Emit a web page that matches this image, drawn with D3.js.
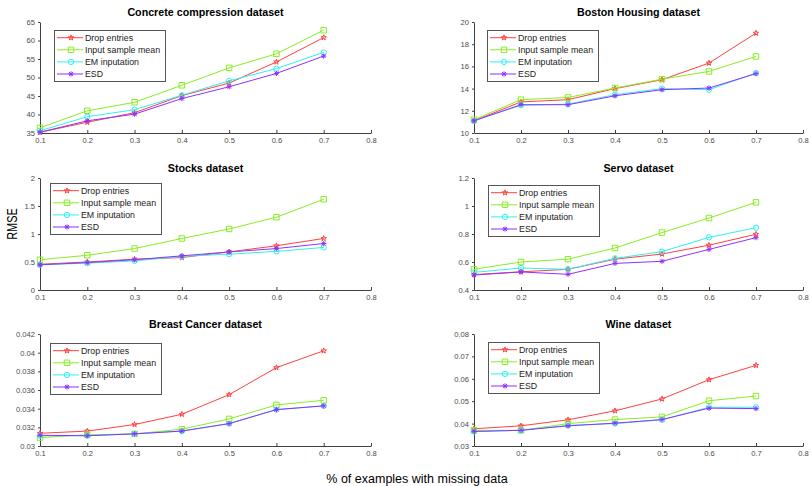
<!DOCTYPE html>
<html><head><meta charset="utf-8">
<script src="https://cdn.jsdelivr.net/npm/d3@7"></script>
<style>body{margin:0;background:#fff}svg{display:block}</style>
</head><body><svg id="c" width="811" height="486"></svg>
<script>
// ---------- data ----------
const missingFraction = [0.1, 0.2, 0.3, 0.4, 0.5, 0.6, 0.7];
const xTickValues = [0.1, 0.2, 0.3, 0.4, 0.5, 0.6, 0.7, 0.8];
const methods = ["Drop entries", "Input sample mean", "EM inputation", "ESD"];
const datasetTitles = ["Concrete compression dataset", "Boston Housing dataset", "Stocks dataset",
  "Servo dataset", "Breast Cancer dataset", "Wine dataset"];

const concreteDrop = [35.2, 37.9, 40.5, 45.1, 48.5, 54.2, 60.8];
const concreteMean = [36.4, 41.0, 43.3, 47.9, 52.6, 56.4, 62.8];
const concreteEM   = [35.6, 39.4, 41.3, 45.2, 49.1, 52.4, 56.8];
const concreteESD  = [35.2, 38.3, 40.1, 44.3, 47.5, 51.1, 55.8];

const bostonDrop = [11.1, 12.8, 13.0, 14.0, 14.8, 16.3, 19.0];
const bostonMean = [11.2, 13.0, 13.2, 14.05, 14.85, 15.55, 16.9];
const bostonEM   = [11.1, 12.5, 12.6, 13.45, 14.0, 13.9, 15.4];
const bostonESD  = [11.1, 12.55, 12.55, 13.35, 13.9, 14.05, 15.35];

const stocksDrop = [0.46, 0.50, 0.55, 0.58, 0.68, 0.79, 0.92];
const stocksMean = [0.54, 0.62, 0.74, 0.92, 1.09, 1.30, 1.62];
const stocksEM   = [0.45, 0.48, 0.52, 0.60, 0.64, 0.69, 0.76];
const stocksESD  = [0.45, 0.49, 0.54, 0.61, 0.68, 0.74, 0.83];

const servoDrop = [0.51, 0.53, 0.548, 0.62, 0.657, 0.72, 0.798];
const servoMean = [0.548, 0.60, 0.62, 0.70, 0.81, 0.914, 1.026];
const servoEM   = [0.526, 0.557, 0.548, 0.626, 0.674, 0.776, 0.845];
const servoESD  = [0.507, 0.529, 0.512, 0.59, 0.605, 0.69, 0.774];

const breastDrop = [0.03136, 0.0316, 0.0323, 0.0334, 0.0355, 0.0384, 0.0402];
const breastMean = [0.0309, 0.0312, 0.0313, 0.0318, 0.0329, 0.0344, 0.0349];
const breastEM   = [0.0311, 0.0311, 0.0313, 0.0316, 0.0324, 0.0339, 0.0343];
const breastESD  = [0.03115, 0.0311, 0.0313, 0.0316, 0.0324, 0.0339, 0.0343];

const wineDrop = [0.0377, 0.039, 0.0417, 0.0457, 0.051, 0.0596, 0.066];
const wineMean = [0.037, 0.037, 0.040, 0.0418, 0.043, 0.0502, 0.0523];
const wineEM   = [0.0365, 0.037, 0.0392, 0.040, 0.0417, 0.0473, 0.0473];
const wineESD  = [0.0365, 0.037, 0.039, 0.0402, 0.0418, 0.0469, 0.0467];

const concreteTicks = [35, 40, 45, 50, 55, 60, 65];
const bostonTicks = [10, 12, 14, 16, 18, 20];
const stocksTicks = [0, 0.5, 1, 1.5, 2];
const servoTicks = [0.4, 0.6, 0.8, 1, 1.2];
const breastTicks = [0.03, 0.032, 0.034, 0.036, 0.038, 0.04, 0.042];
const wineTicks = [0.03, 0.04, 0.05, 0.06, 0.07, 0.08];

const xLabel = "% of examples with missing data";
const yLabel = "RMSE";

// ---------- build panels ----------
const seriesByPanel = [
  [concreteDrop, concreteMean, concreteEM, concreteESD],
  [bostonDrop, bostonMean, bostonEM, bostonESD],
  [stocksDrop, stocksMean, stocksEM, stocksESD],
  [servoDrop, servoMean, servoEM, servoESD],
  [breastDrop, breastMean, breastEM, breastESD],
  [wineDrop, wineMean, wineEM, wineESD]
];
const ticksByPanel = [concreteTicks, bostonTicks, stocksTicks, servoTicks, breastTicks, wineTicks];

// layout
const colX = [[40, 371], [474, 803]];
const rowY = [[22, 133], [178, 290], [334, 446]];
const legendOffset = [[14, 8], [13, 8], [10, 5], [14, 7], [10, 9], [14, 8]];
const colors = ["#ff4040", "#88ee22", "#30f0f0", "#9030ff"];
const axisColor = "#404040";
const font = "'Liberation Sans', Arial, Helvetica, sans-serif";

const svg = d3.select("#c");

function drawMarker(g, k, x, y) {
  const c = colors[k];
  if (k === 0) {
    g.append("path").attr("d", d3.symbol(d3.symbolStar, 9)()).attr("transform", `translate(${x},${y})`)
      .attr("fill", "none").attr("stroke", c).attr("stroke-width", 1);
  } else if (k === 1) {
    g.append("path").attr("d", d3.symbol(d3.symbolSquare, 30)()).attr("transform", `translate(${x},${y})`)
      .attr("fill", "none").attr("stroke", c).attr("stroke-width", 1);
  } else if (k === 2) {
    g.append("path").attr("d", d3.symbol(d3.symbolCircle, 22)()).attr("transform", `translate(${x},${y})`)
      .attr("fill", "none").attr("stroke", c).attr("stroke-width", 1);
  } else {
    const r = 2.6, d = 1.9;
    g.append("path").attr("d", `M${-r},0H${r}M0,${-r}V${r}M${-d},${-d}L${d},${d}M${-d},${d}L${d},${-d}`)
      .attr("transform", `translate(${x},${y})`).attr("fill", "none").attr("stroke", c).attr("stroke-width", 1);
  }
}

const fmt = v => String(+v.toFixed(4));

seriesByPanel.forEach((series, i) => {
  const col = i % 2, row = Math.floor(i / 2);
  const [x0, x1] = colX[col];
  const [yTop, yBot] = rowY[row];
  const ticks = ticksByPanel[i];
  const x = d3.scaleLinear().domain([0.1, 0.8]).range([x0, x1]);
  const y = d3.scaleLinear().domain([ticks[0], ticks[ticks.length - 1]]).range([yBot, yTop]);
  const g = svg.append("g");

  // x axis
  const xa = g.append("g").attr("transform", `translate(0,${yBot})`)
    .call(d3.axisBottom(x).tickValues(xTickValues).tickFormat(fmt).tickSizeInner(-3).tickSizeOuter(0).tickPadding(4.5));
  // y axis
  const ya = g.append("g").attr("transform", `translate(${x0},0)`)
    .call(d3.axisLeft(y).tickValues(ticks).tickFormat(fmt).tickSizeInner(2).tickSizeOuter(0).tickPadding(3));
  [xa, ya].forEach(a => {
    a.selectAll("path,line").attr("stroke", axisColor).attr("stroke-width", 1);
    a.selectAll("text").attr("fill", "#4a4a4a").style("font-family", font).style("font-size", "7.6px");
  });

  // title
  g.append("text").attr("x", (x0 + x1) / 2).attr("y", yTop - 6.5).attr("text-anchor", "middle")
    .style("font-family", font).style("font-size", "10.7px").style("font-weight", "bold").text(datasetTitles[i]);

  // lines
  const line = d3.line().x((d, j) => x(missingFraction[j])).y(d => y(d));
  series.forEach((vals, k) => {
    g.append("path").datum(vals).attr("d", line).attr("fill", "none")
      .attr("stroke", colors[k]).attr("stroke-width", 1);
    vals.forEach((v, j) => drawMarker(g, k, x(missingFraction[j]), y(v)));
  });

  // legend
  const lx = x0 + legendOffset[i][0], ly = yTop + legendOffset[i][1];
  const lg = g.append("g");
  lg.append("rect").attr("x", lx + 0.5).attr("y", ly + 0.5).attr("width", 111).attr("height", 51)
    .attr("fill", "#fff").attr("stroke", "#555").attr("stroke-width", 1);
  methods.forEach((m, k) => {
    const ry = ly + 7.7 + k * 12.1;
    lg.append("line").attr("x1", lx + 3).attr("x2", lx + 29).attr("y1", ry).attr("y2", ry)
      .attr("stroke", colors[k]).attr("stroke-width", 1);
    drawMarker(lg, k, lx + 17, ry);
    lg.append("text").attr("x", lx + 31).attr("y", ry).attr("dy", "0.35em")
      .style("font-family", font).style("font-size", "9.6px").attr("transform", `translate(${lx + 31},0) scale(0.92,1) translate(${-(lx + 31)},0)`)
      .attr("fill", "#222").text(m);
  });
});

// global labels
svg.append("text").attr("x", 417).attr("y", 483).attr("text-anchor", "middle")
  .style("font-family", font).style("font-size", "12.5px").text(xLabel);
svg.append("text").attr("transform", "translate(17,224) rotate(-90) scale(0.78,1)").attr("text-anchor", "middle")
  .style("font-family", font).style("font-size", "14px").text(yLabel);
</script></body></html>
